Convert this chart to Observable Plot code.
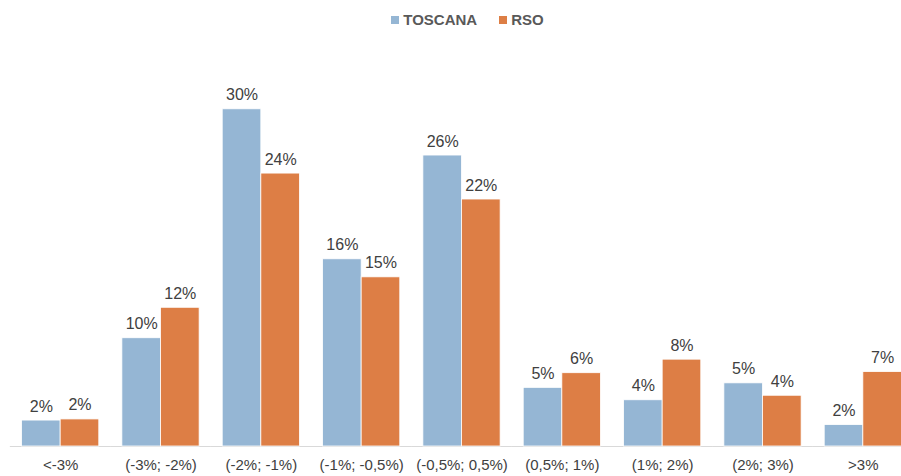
<!DOCTYPE html>
<html>
<head>
<meta charset="utf-8">
<script src="https://cdn.jsdelivr.net/npm/d3@7"></script>
<script src="https://cdn.jsdelivr.net/npm/@observablehq/plot@0.6"></script>
<style>
  body { margin: 0; background: #fff; font-family: "Liberation Sans", Arial, sans-serif; }
  #legend { height: 40px; box-sizing: border-box; padding-top: 0px; padding-left: 34px;
            display: flex; justify-content: center; gap: 22px; font-weight: bold; font-size: 15px;
            color: #595959; line-height: 18px; }
  .item { display: flex; align-items: center; gap: 4px; }
  .sw { width: 8px; height: 8px; display: inline-block; }
</style>
</head>
<body>
<div id="legend"></div>
<div id="chart"></div>
<script>
const categories = ["<-3%", "(-3%; -2%)", "(-2%; -1%)", "(-1%; -0,5%)", "(-0,5%; 0,5%)", "(0,5%; 1%)", "(1%; 2%)", "(2%; 3%)", ">3%"];
const seriesNames = ["TOSCANA", "RSO"];
const seriesColors = ["#95b6d4", "#dd7e45"];
const toscana = [2.3, 9.6, 29.9, 16.6, 25.8, 5.2, 4.1, 5.6, 1.9];
const rso = [2.4, 12.3, 24.2, 15.0, 21.9, 6.5, 7.7, 4.5, 6.6];
const toscanaLabels = ["2%", "10%", "30%", "16%", "26%", "5%", "4%", "5%", "2%"];
const rsoLabels = ["2%", "12%", "24%", "15%", "22%", "6%", "8%", "4%", "7%"];

const data = [];
categories.forEach((c, i) => {
  data.push({category: c, series: "TOSCANA", value: toscana[i], label: toscanaLabels[i]});
  data.push({category: c, series: "RSO", value: rso[i], label: rsoLabels[i]});
});

const legend = document.getElementById("legend");
seriesNames.forEach((s, i) => {
  const it = document.createElement("div");
  it.className = "item";
  it.innerHTML = `<span class="sw" style="background:${seriesColors[i]}"></span><span>${s}</span>`;
  legend.appendChild(it);
});

const chart = Plot.plot({
  width: 901,
  height: 436,
  marginTop: 0,
  marginBottom: 30,
  marginLeft: 10,
  marginRight: 0,
  style: {fontFamily: "'Liberation Sans', Arial, sans-serif", fontSize: "15px", color: "#404040", background: "#fff"},
  fx: {domain: categories, range: [10, 913], round: false, paddingInner: 0.23, paddingOuter: 0.115, axis: "bottom", label: null, tickSize: 0, tickPadding: 13},
  x: {domain: seriesNames, axis: null, padding: 0, round: false},
  y: {domain: [0, 36], axis: null},
  color: {domain: seriesNames, range: seriesColors},
  marks: [
    Plot.ruleY([0], {stroke: "#d9d9d9", strokeWidth: 1, insetLeft: -11.7, insetRight: -11.7}),
    Plot.barY(data, {fx: "category", x: "series", y: "value", fill: "series", stroke: "white", strokeWidth: 0.8}),
    Plot.text(data, {fx: "category", x: "series", y: "value", text: "label", dy: -9, lineAnchor: "bottom", fill: "#404040", fontSize: 16})
  ]
});
document.getElementById("chart").appendChild(chart);
</script>
</body>
</html>
